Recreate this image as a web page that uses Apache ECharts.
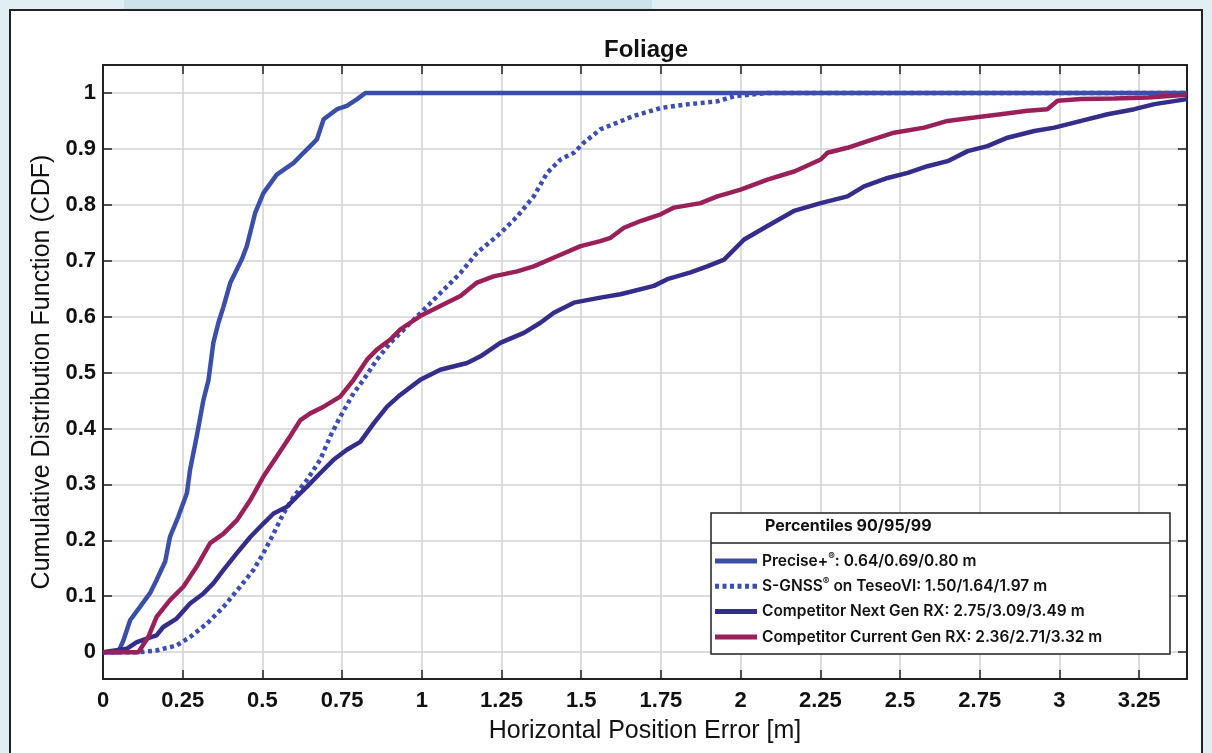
<!DOCTYPE html>
<html lang="en">
<head>
    <meta charset="UTF-8">
    <title>Foliage</title>
    <style>
        *{ margin:0; padding:0; }
        #box{ width:1212px; height:753px; }
    </style>
    <script src="https://cdn.jsdelivr.net/npm/echarts@6/dist/echarts.min.js"></script>
</head>
<body>
    <div id="box"></div>
    <script>
        // 数据 (x = horizontal error [m], y = CDF)
        var precisePts = [[0,0],[0.048,0],[0.064,0.021],[0.085,0.057],[0.116,0.081],[0.148,0.106],[0.168,0.129],[0.195,0.162],[0.210,0.206],[0.236,0.242],[0.263,0.284],[0.273,0.326],[0.294,0.386],[0.315,0.451],[0.331,0.487],[0.346,0.553],[0.362,0.589],[0.378,0.618],[0.399,0.660],[0.435,0.702],[0.451,0.726],[0.477,0.785],[0.503,0.821],[0.545,0.854],[0.598,0.875],[0.629,0.893],[0.671,0.917],[0.692,0.953],[0.734,0.971],[0.765,0.977],[0.797,0.989],[0.823,1.0],[3.4,1.0]];
        var sgnssPts = [[0,0],[0.116,0],[0.168,0.003],[0.231,0.012],[0.273,0.027],[0.326,0.051],[0.378,0.081],[0.430,0.117],[0.472,0.147],[0.503,0.177],[0.535,0.212],[0.566,0.248],[0.598,0.278],[0.640,0.308],[0.681,0.344],[0.713,0.386],[0.744,0.421],[0.786,0.463],[0.817,0.487],[0.859,0.523],[0.901,0.553],[0.940,0.575],[0.995,0.606],[1.058,0.642],[1.121,0.678],[1.173,0.714],[1.246,0.749],[1.299,0.779],[1.351,0.815],[1.393,0.857],[1.435,0.881],[1.477,0.893],[1.508,0.911],[1.560,0.935],[1.613,0.947],[1.665,0.959],[1.749,0.973],[1.822,0.979],[1.927,0.985],[1.979,0.994],[2.084,1.0],[3.4,1.0]];
        var nextGenPts = [[0,0],[0.074,0.006],[0.106,0.018],[0.137,0.024],[0.168,0.030],[0.189,0.045],[0.231,0.060],[0.273,0.087],[0.315,0.105],[0.346,0.123],[0.378,0.147],[0.420,0.177],[0.462,0.206],[0.503,0.230],[0.535,0.248],[0.577,0.260],[0.608,0.278],[0.640,0.296],[0.681,0.320],[0.723,0.344],[0.765,0.362],[0.807,0.376],[0.849,0.409],[0.891,0.439],[0.932,0.460],[0.995,0.487],[1.058,0.505],[1.142,0.517],[1.184,0.529],[1.246,0.553],[1.320,0.571],[1.372,0.589],[1.414,0.607],[1.477,0.625],[1.560,0.634],[1.623,0.640],[1.728,0.655],[1.770,0.667],[1.843,0.679],[1.895,0.690],[1.948,0.702],[2.011,0.738],[2.084,0.762],[2.167,0.789],[2.251,0.803],[2.335,0.815],[2.387,0.833],[2.461,0.848],[2.524,0.857],[2.586,0.869],[2.649,0.878],[2.712,0.896],[2.774,0.905],[2.837,0.920],[2.921,0.932],[2.984,0.938],[3.068,0.950],[3.151,0.962],[3.235,0.971],[3.298,0.980],[3.4,0.989]];
        var currentGenPts = [[0,0],[0.111,0],[0.142,0.027],[0.168,0.063],[0.210,0.093],[0.252,0.117],[0.294,0.153],[0.336,0.195],[0.378,0.212],[0.420,0.236],[0.462,0.272],[0.503,0.314],[0.545,0.350],[0.587,0.386],[0.619,0.415],[0.650,0.427],[0.692,0.439],[0.744,0.457],[0.786,0.487],[0.828,0.523],[0.859,0.541],[0.901,0.559],[0.932,0.577],[0.995,0.601],[1.058,0.619],[1.121,0.637],[1.173,0.661],[1.225,0.672],[1.299,0.681],[1.351,0.690],[1.424,0.708],[1.498,0.726],[1.560,0.735],[1.592,0.741],[1.634,0.759],[1.686,0.771],[1.749,0.783],[1.791,0.795],[1.874,0.803],[1.927,0.815],[2.0,0.827],[2.084,0.845],[2.170,0.860],[2.251,0.881],[2.272,0.893],[2.335,0.902],[2.398,0.914],[2.481,0.929],[2.576,0.938],[2.649,0.950],[2.733,0.956],[2.816,0.962],[2.900,0.968],[2.962,0.971],[2.994,0.986],[3.068,0.989],[3.172,0.990],[3.277,0.992],[3.4,0.997]];

        var seriesNames = [
            'Precise+®: 0.64/0.69/0.80 m',
            'S-GNSS® on TeseoVI: 1.50/1.64/1.97 m',
            'Competitor Next Gen RX: 2.75/3.09/3.49 m',
            'Competitor Current Gen RX: 2.36/2.71/3.32 m'
        ];
        var legendTitle = 'Percentiles 90/95/99';

        // 图例图标: 实线 / 点线
        var solidIcon = 'path://M0,0h42v5h-42z';
        var dotIcon = 'path://M0,0h4v5h-4zM7.5,0h4v5h-4zM15,0h4v5h-4zM22.5,0h4v5h-4zM30,0h4v5h-4zM37.5,0h4.5v5h-4.5z';

        var myChart = echarts.init(document.getElementById('box'));

        var axisFont = { fontFamily: 'Liberation Sans, Arial, sans-serif', fontSize: 22, fontWeight: 'bold', color: '#111' };
        var tickStyle = { inside: true, length: 9, lineStyle: { color: '#222', width: 1.5 } };
        var lineAxis = { onZero: false, lineStyle: { color: '#222', width: 2 } };

        var option = {
            animation: false,
            backgroundColor: '#e1eef4',
            title: {
                text: 'Foliage',
                left: 641,
                textAlign: 'center',
                top: 33,
                textStyle: { fontFamily: 'Liberation Sans, Arial, sans-serif', fontSize: 24, fontWeight: 'bold', color: '#111' }
            },
            graphic: [
                // 背景
                { type: 'rect', z: -10, shape: { x: 124, y: 0, width: 528, height: 10 }, style: { fill: '#cde3ec' } },
                { type: 'rect', z: -9, shape: { x: 10, y: 10, width: 1192, height: 760 }, style: { fill: '#fff', stroke: '#222', lineWidth: 2 } },
                // 图例框
                { type: 'rect', z: 3, shape: { x: 711, y: 513, width: 459, height: 141 }, style: { fill: '#fff', stroke: '#222', lineWidth: 1.5 } },
                { type: 'line', z: 3, shape: { x1: 711, y1: 543, x2: 1170, y2: 543 }, style: { stroke: '#222', lineWidth: 1.5 } },
                { type: 'text', z: 4, left: 765, top: 518, style: { text: legendTitle, font: 'bold 16px Inter, sans-serif', fill: '#111' } }
            ],
            legend: {
                orient: 'vertical',
                left: 715,
                top: 552,
                itemWidth: 42,
                itemHeight: 5,
                itemGap: 7.3,
                padding: 0,
                data: [
                    { name: seriesNames[0], icon: solidIcon },
                    { name: seriesNames[1], icon: dotIcon },
                    { name: seriesNames[2], icon: solidIcon },
                    { name: seriesNames[3], icon: solidIcon }
                ],
                formatter: function(name){
                    return name.replace('®', '{sup|®}');
                },
                textStyle: {
                    fontFamily: 'Inter, sans-serif',
                    fontWeight: 600,
                    fontSize: 15.5,
                    lineHeight: 18,
                    color: '#111',
                    rich: {
                        sup: { fontFamily: 'Inter, sans-serif', fontWeight: 600, fontSize: 10, verticalAlign: 'top', lineHeight: 12, color: '#111' }
                    }
                }
            },
            grid: {
                left: 103,
                right: 25,
                top: 65,
                bottom: 74
            },
            xAxis: [
                {
                    type: 'value',
                    min: 0,
                    max: 3.4,
                    interval: 0.25,
                    name: 'Horizontal Position Error [m]',
                    nameLocation: 'middle',
                    nameGap: 40,
                    nameTextStyle: { fontFamily: 'Liberation Sans, Arial, sans-serif', fontSize: 25, color: '#111' },
                    axisLine: lineAxis,
                    axisTick: tickStyle,
                    axisLabel: Object.assign({ margin: 11, showMaxLabel: false }, axisFont),
                    splitLine: { lineStyle: { color: '#d2d2d2', width: 1.5 } }
                },
                {
                    type: 'value',
                    position: 'top',
                    min: 0,
                    max: 3.4,
                    interval: 0.25,
                    axisLine: lineAxis,
                    axisTick: tickStyle,
                    axisLabel: { show: false },
                    splitLine: { show: false }
                }
            ],
            yAxis: [
                {
                    type: 'value',
                    min: -0.048,
                    max: 1.05,
                    splitNumber: 11,
                    name: 'Cumulative Distribution Function (CDF)',
                    nameLocation: 'middle',
                    nameGap: 41,
                    nameTextStyle: { fontFamily: 'Liberation Sans, Arial, sans-serif', fontSize: 25, color: '#111' },
                    axisLine: Object.assign({ show: true }, lineAxis),
                    axisTick: Object.assign({ show: true }, tickStyle),
                    axisLabel: Object.assign({ margin: 7, showMinLabel: false, showMaxLabel: false }, axisFont),
                    splitLine: { lineStyle: { color: '#d2d2d2', width: 1.5 } }
                },
                {
                    type: 'value',
                    position: 'right',
                    min: -0.048,
                    max: 1.05,
                    splitNumber: 11,
                    axisLine: Object.assign({ show: true }, lineAxis),
                    axisTick: Object.assign({ show: true }, tickStyle),
                    axisLabel: { show: false },
                    splitLine: { show: false }
                }
            ],
            series: [
                {
                    name: seriesNames[0],
                    type: 'line',
                    symbol: 'none',
                    data: precisePts,
                    color: '#3b4fa9',
                    lineStyle: { width: 4.5, color: '#3b4fa9' }
                },
                {
                    name: seriesNames[1],
                    type: 'line',
                    symbol: 'none',
                    data: sgnssPts,
                    color: '#3d4db0',
                    lineStyle: { width: 4.5, color: '#3d4db0', type: [4, 3.5] }
                },
                {
                    name: seriesNames[2],
                    type: 'line',
                    symbol: 'none',
                    data: nextGenPts,
                    color: '#352d8a',
                    lineStyle: { width: 4.5, color: '#352d8a' }
                },
                {
                    name: seriesNames[3],
                    type: 'line',
                    symbol: 'none',
                    data: currentGenPts,
                    color: '#9a205a',
                    lineStyle: { width: 4.5, color: '#9a205a' }
                }
            ]
        };
        myChart.setOption(option);
    </script>
</body>
</html>
